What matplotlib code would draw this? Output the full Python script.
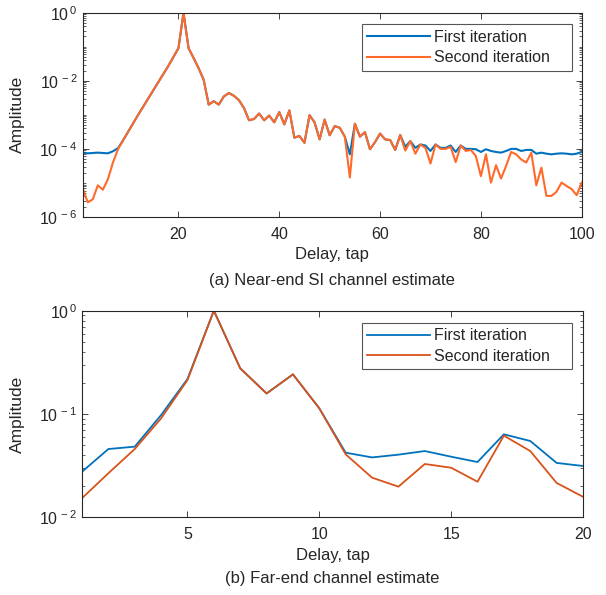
import numpy as np
import matplotlib
matplotlib.use("Agg")
import matplotlib.pyplot as plt

plt.rcParams['font.family'] = ['Liberation Sans', 'DejaVu Sans']
plt.rcParams['font.size'] = 11

# near-end SI channel estimate, log10 of amplitude, taps 1..100
near_taps = np.arange(1, 101)
near_first_log10 = [
    -4.11, -4.13, -4.12, -4.11, -4.12, -4.13, -4.07, -3.98, -3.75, -3.50,
    -3.25, -3.00, -2.76, -2.52, -2.28, -2.04, -1.80, -1.56, -1.30, -1.04,
    0.00, -1.04, -1.33, -1.63, -1.97, -2.70, -2.60, -2.70, -2.46, -2.36,
    -2.44, -2.57, -2.80, -3.16, -3.12, -2.96, -3.16, -3.02, -3.22, -2.92,
    -3.28, -2.87, -3.67, -3.62, -3.82, -3.01, -3.22, -3.72, -3.14, -3.60,
    -3.33, -3.38, -3.64, -4.16, -3.26, -3.64, -3.51, -4.01, -3.80, -3.55,
    -3.72, -3.74, -4.03, -3.59, -3.94, -3.77, -3.97, -3.87, -3.90, -4.06,
    -3.87, -3.97, -3.97, -3.90, -4.09, -3.90, -4.00, -4.00, -4.01, -4.09,
    -4.01, -4.06, -4.09, -4.11, -4.06, -4.00, -4.00, -4.06, -4.03, -4.03,
    -4.14, -4.11, -4.14, -4.16, -4.14, -4.13, -4.14, -4.16, -4.14, -4.09,
]
near_second_log10 = [
    -5.16, -5.57, -5.48, -5.07, -5.20, -4.89, -4.40, -4.01, -3.75, -3.50,
    -3.25, -3.00, -2.76, -2.52, -2.28, -2.04, -1.80, -1.56, -1.30, -1.04,
    0.00, -1.04, -1.33, -1.63, -1.97, -2.70, -2.60, -2.70, -2.46, -2.36,
    -2.44, -2.57, -2.80, -3.16, -3.12, -2.96, -3.16, -3.02, -3.22, -2.92,
    -3.28, -2.87, -3.67, -3.62, -3.82, -3.01, -3.22, -3.72, -3.14, -3.60,
    -3.33, -3.38, -3.64, -4.84, -3.26, -3.64, -3.51, -4.01, -3.80, -3.55,
    -3.72, -3.74, -4.03, -3.59, -4.05, -3.77, -4.14, -3.87, -3.97, -4.43,
    -3.87, -4.00, -4.00, -3.94, -4.39, -3.90, -4.06, -4.03, -4.21, -4.80,
    -4.16, -4.99, -4.48, -4.87, -4.50, -4.09, -4.16, -4.31, -4.40, -4.11,
    -5.07, -4.55, -5.38, -5.38, -5.26, -4.99, -5.09, -5.18, -5.36, -4.99,
]

# far-end channel estimate, taps 1..20
far_taps = np.arange(1, 21)
far_first = [0.0276, 0.0458, 0.0483, 0.0977, 0.218, 1.0, 0.277, 0.158, 0.242, 0.1135,
             0.0422, 0.038, 0.0404, 0.0438, 0.0386, 0.0343, 0.0636, 0.0548, 0.0336, 0.0314]
far_second = [0.0153, 0.0267, 0.0458, 0.0908, 0.213, 1.0, 0.277, 0.158, 0.242, 0.1135,
              0.0407, 0.0242, 0.0198, 0.0328, 0.0302, 0.0221, 0.0617, 0.0438, 0.0215, 0.0158]

labels = ['First iteration', 'Second iteration']
near_yexp = [-6, -4, -2, 0]
far_yexp = [-2, -1, 0]
blue = '#0072BD'
orange_top = '#FF6A2A'
orange_bot = '#D95319'
dark = '#262626'

W, H = 606, 595
fig = plt.figure(figsize=(W / 100, H / 100), dpi=100)

def box(l, t, r, b):
    return [l / W, 1 - b / H, (r - l) / W, (b - t) / H]

ax1 = fig.add_axes(box(82.7, 12.7, 581.7, 217))
ax2 = fig.add_axes(box(82, 310.7, 583, 517.3))

ax1.semilogy(near_taps, np.power(10.0, near_first_log10), color=blue, lw=1.5, label=labels[0])
ax1.semilogy(near_taps, np.power(10.0, near_second_log10), color=orange_top, lw=1.5, label=labels[1])
ax1.set_xlim(1, 100)
ax1.set_ylim(1e-6, 1)
ax1.set_xticks([20, 40, 60, 80, 100])

ax2.semilogy(far_taps, far_first, color=blue, lw=1.3, label=labels[0])
ax2.semilogy(far_taps, far_second, color=orange_bot, lw=1.3, label=labels[1])
ax2.set_xlim(1, 20)
ax2.set_ylim(1e-2, 1)
ax2.set_xticks([5, 10, 15, 20])

for ax, exps, top_px, xl in [(ax1, near_yexp, 24, 82.7), (ax2, far_yexp, 322.7, 82)]:
    ax.set_yticks([10.0 ** e for e in exps])
    ax.set_yticklabels([r'$\mathdefault{10^{\,%d}}$' % e for e in exps])
    ax.yaxis.set_minor_locator(matplotlib.ticker.LogLocator(base=10, subs=np.arange(1, 10), numticks=20))
    ax.yaxis.set_minor_formatter(matplotlib.ticker.NullFormatter())
    ax.tick_params(which='both', direction='in', top=True, right=True, colors=dark, labelsize=11.5)
    ax.tick_params(which='major', length=4.5, width=0.6)
    ax.tick_params(which='minor', length=2.5, width=0.5)
    ax.tick_params(axis='x', pad=7)
    for s in ax.spines.values():
        s.set_color(dark)
        s.set_linewidth(0.8)
    ax.set_xlabel('Delay, tap', fontsize=12, color=dark, labelpad=4)
    ax.set_ylabel('Amplitude', fontsize=12.5, color=dark)
    ax.yaxis.set_label_coords((25 - xl) / 500, 0.5)
    # legend frame stretched to the reference box width (361..572 px)
    leg = ax.legend(loc='upper left', mode='expand',
                    bbox_to_anchor=(361.7 / W, 1 - top_px / H, (572 - 361.7) / W, 0),
                    bbox_transform=fig.transFigure, borderaxespad=0, fancybox=False,
                    edgecolor='#555555', fontsize=11.5, handlelength=3.9, handletextpad=0.3,
                    labelspacing=0.35, borderpad=0.35, framealpha=1)
    leg.get_frame().set_linewidth(0.8)
    for t in leg.get_texts():
        t.set_color(dark)

fig.text(0.5 * (82.7 + 581.7) / W, 1 - 280 / H, '(a) Near-end SI channel estimate',
         ha='center', va='center', fontsize=12, color=dark)
fig.text(0.5 * (82 + 583) / W, 1 - 578 / H, '(b) Far-end channel estimate',
         ha='center', va='center', fontsize=12, color=dark)

fig.savefig('out.png', dpi=100)
